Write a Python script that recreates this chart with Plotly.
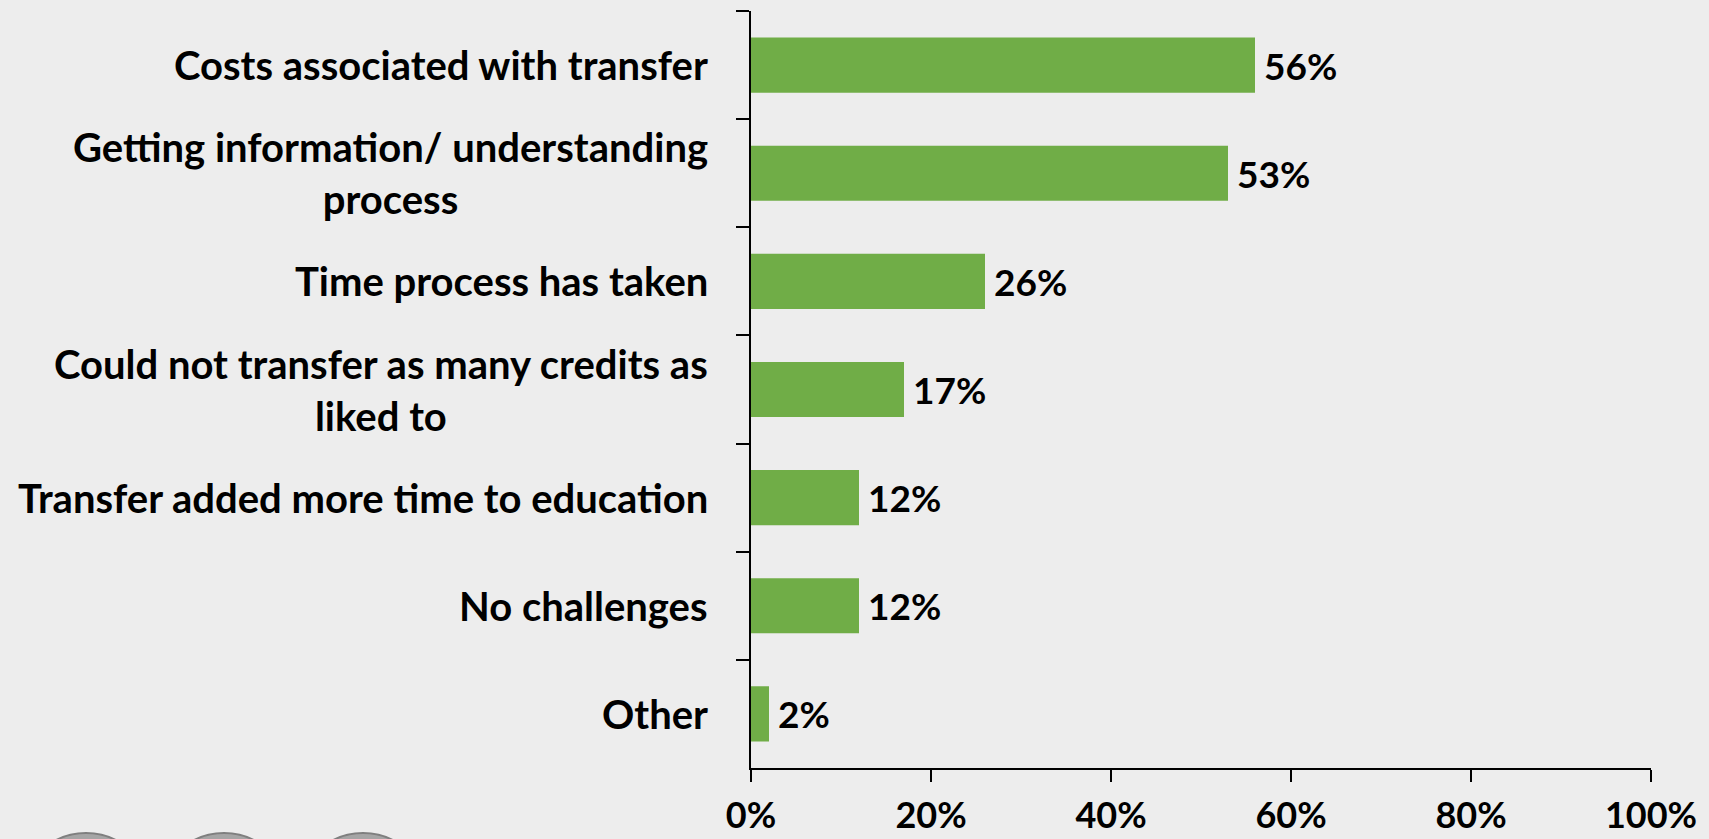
import plotly.graph_objects as go

categories = [
    "Costs associated with transfer",
    "Getting information/ understanding<br>process",
    "Time process has taken",
    "Could not transfer as many credits as<br>liked to",
    "Transfer added more time to education",
    "No challenges",
    "Other",
]
values = [0.56, 0.53, 0.26, 0.17, 0.12, 0.12, 0.02]
value_labels = ["56%", "53%", "26%", "17%", "12%", "12%", "2%"]
tick_vals = [0, 0.2, 0.4, 0.6, 0.8, 1.0]
tick_text = ["0%", "20%", "40%", "60%", "80%", "100%"]

W, H = 1709, 839
L, R, T, B = 751, 58, 11, 71
PW, PH = W - L - R, H - T - B
FONT = "Lato"
FS_CAT = 40
FS_VAL = 37
FS_TICK = 36

fig = go.Figure(go.Bar(
    x=values, y=categories, orientation="h",
    marker=dict(color="#70AD47", line=dict(width=0)),
    width=0.51, hoverinfo="skip",
))

annotations = []
for cat in categories:
    annotations.append(dict(
        x=0, xref="paper", y=cat, yref="y", text=cat, showarrow=False,
        xanchor="right", yanchor="middle", xshift=-41, align="center",
        font=dict(family=FONT, size=FS_CAT, color="black", weight="bold"),
    ))
for cat, v, lab in zip(categories, values, value_labels):
    annotations.append(dict(
        x=v, xref="x", y=cat, yref="y", text=lab, showarrow=False,
        xanchor="left", yanchor="middle", xshift=7,
        font=dict(family=FONT, size=FS_VAL, color="black", weight="bold"),
    ))

shapes = []
for cx in [86, 224, 363]:
    r = 65
    cy = 898
    shapes.append(dict(
        type="circle", xref="paper", yref="paper",
        x0=(cx - r - L) / PW, x1=(cx + r - L) / PW,
        y0=(H - B - (cy + r)) / PH, y1=(H - B - (cy - r)) / PH,
        fillcolor="#A5A5A5", line=dict(color="#7F7F7F", width=2), layer="above",
    ))

fig.update_layout(
    width=W, height=H,
    margin=dict(l=L, r=R, t=T, b=B, pad=0, autoexpand=False),
    paper_bgcolor="#EDEDED", plot_bgcolor="#EDEDED",
    showlegend=False,
    annotations=annotations, shapes=shapes,
    xaxis=dict(
        range=[0, 1], tickvals=tick_vals, ticktext=tick_text,
        showgrid=False, zeroline=False, showline=True, linecolor="black", linewidth=2,
        ticks="outside", ticklen=12, tickwidth=1.5, tickcolor="black",
        ticklabelstandoff=3, automargin=False,
        tickfont=dict(family=FONT, size=FS_TICK, color="black", weight="bold"),
        fixedrange=True,
    ),
    yaxis=dict(
        type="category", categoryorder="array", categoryarray=categories,
        autorange="reversed", showticklabels=False, tickson="boundaries",
        showgrid=False, zeroline=False, showline=True, linecolor="black", linewidth=2,
        ticks="outside", ticklen=13, tickwidth=1.5, tickcolor="black",
        automargin=False, fixedrange=True,
    ),
)

fig.write_html(
    "out.html",
    config={"displayModeBar": False},
    post_script="document.body.style.margin='0';document.body.style.overflow='hidden';"
                "document.body.style.background='#EDEDED';",
)
